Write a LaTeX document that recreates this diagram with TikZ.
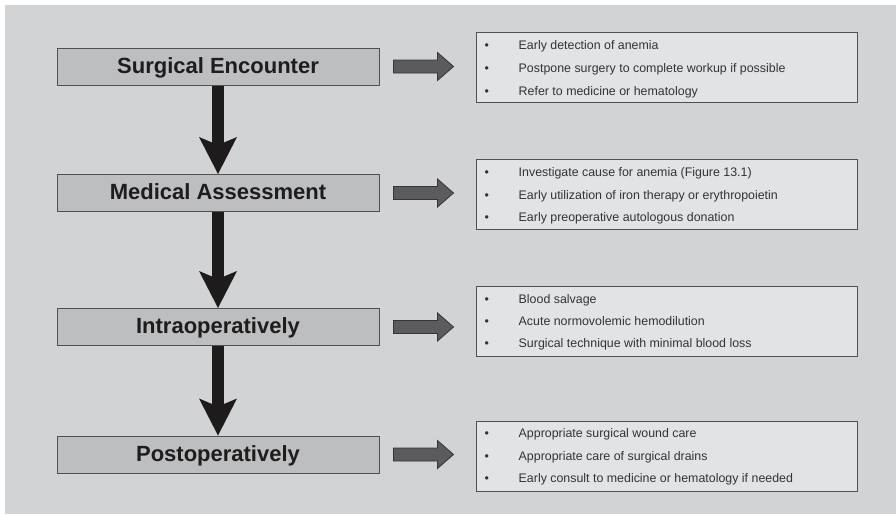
\documentclass[tikz,border=0pt]{standalone}
\usepackage{fontspec}
\setmainfont{Liberation Sans}
\usetikzlibrary{arrows.meta,calc}

\definecolor{panel}{HTML}{D2D3D5}
\definecolor{stagefill}{HTML}{BDBEC0}
\definecolor{notefill}{HTML}{E2E3E5}
\definecolor{boxline}{HTML}{505052}
\definecolor{titletext}{HTML}{1E1C1D}
\definecolor{notetext}{HTML}{333335}
\definecolor{flowcol}{HTML}{1E1B1C}
\definecolor{pushfill}{HTML}{5B5B5D}
\definecolor{pushline}{HTML}{353537}

% grey block arrow pointing from stage box #1 toward note box #2
\newcommand\pusharrow[2]{%
  \draw[push] let \p1=(#1.east), \p2=(#2.west) in
    (\x1+14pt,\y1+6.5pt) -- (\x2-38pt,\y1+6.5pt) -- (\x2-38pt,\y1+14pt)
    -- (\x2-22pt,\y1) -- (\x2-38pt,\y1-14pt) -- (\x2-38pt,\y1-6.5pt)
    -- (\x1+14pt,\y1-6.5pt) -- cycle;}

% one bulleted row inside note box #1: row name #2, offset #3, text #4
\newcommand\noteitem[4]{%
  \node[bulletline] (#2b) at ($(#1.north west)+(9,#3)$) {\textbullet};
  \node[bulletline] (#2t) at ($(#1.north west)+(43,#3)$) {#4};}

\begin{document}
\begin{tikzpicture}[x=1pt,y=-1pt,
  stage/.style={draw=boxline, line width=1pt, fill=stagefill,
    minimum width=322pt, minimum height=37pt, inner sep=0pt,
    text height=15.8pt, text depth=2pt, text=titletext,
    font=\fontsize{22}{26}\selectfont\bfseries},
  notebox/.style={draw=boxline, line width=1pt, fill=notefill,
    minimum width=381pt, minimum height=70pt, inner sep=0pt},
  bulletline/.style={anchor=west, inner sep=0pt, text height=8.9pt,
    text depth=0pt, text=notetext, font=\fontsize{12.4}{14}\selectfont},
  flow/.style={draw=flowcol, line width=12pt,
    -{Stealth[length=37pt, width=38pt, inset=8pt, line width=0pt]}},
  push/.style={fill=pushfill, draw=pushline, line width=0.8pt, line join=miter}]

\useasboundingbox (0,0) rectangle (896,514);
\fill[white] (0,0) rectangle (896,514);
\fill[panel] (5,5) rectangle (896,514);

% stages of care
\node[stage] (s1) at (218,66.5) {Surgical Encounter};
\node[stage] (s2) at (218,193) {Medical Assessment};
\node[stage] (s3) at (218,327) {Intraoperatively};
\node[stage] (s4) at (218,454.5) {Postoperatively};

\draw[flow] (s1.south) -- (s2.north);
\draw[flow] (s2.south) -- (s3.north);
\draw[flow] (s3.south) -- (s4.north);

% recommendations for each stage
\node[notebox] (r1) at (666.5,67.5) {};
\node[notebox] (r2) at (666.5,194.5) {};
\node[notebox] (r3) at (666.5,321.5) {};
\node[notebox] (r4) at (666.5,456) {};

\pusharrow{s1}{r1}
\pusharrow{s2}{r2}
\pusharrow{s3}{r3}
\pusharrow{s4}{r4}

\noteitem{r1}{r1a}{13.5}{Early detection of anemia}
\noteitem{r1}{r1b}{36.5}{Postpone surgery to complete workup if possible}
\noteitem{r1}{r1c}{59}{Refer to medicine or hematology}

\noteitem{r2}{r2a}{13.5}{Investigate cause for anemia (Figure 13.1)}
\noteitem{r2}{r2b}{36}{Early utilization of iron therapy or erythropoietin}
\noteitem{r2}{r2c}{58.5}{Early preoperative autologous donation}

\noteitem{r3}{r3a}{13.5}{Blood salvage}
\noteitem{r3}{r3b}{35.5}{Acute normovolemic hemodilution}
\noteitem{r3}{r3c}{57.5}{Surgical technique with minimal blood loss}

\noteitem{r4}{r4a}{12.5}{Appropriate surgical wound care}
\noteitem{r4}{r4b}{36}{Appropriate care of surgical drains}
\noteitem{r4}{r4c}{58}{Early consult to medicine or hematology if needed}
\end{tikzpicture}
\end{document}
